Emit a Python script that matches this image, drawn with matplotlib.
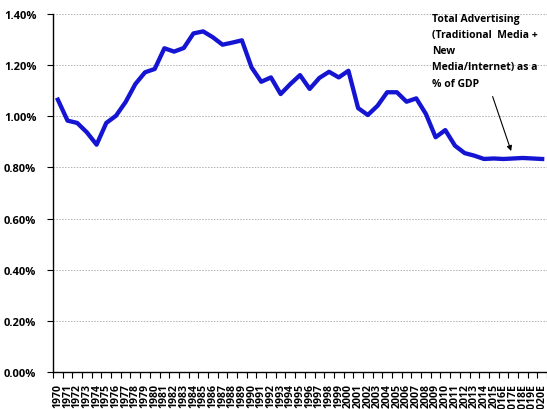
import numpy as np
import matplotlib.pyplot as plt
from matplotlib.ticker import FixedLocator, PercentFormatter

years = [str(y) for y in range(1970, 2016)] + ['2016E', '2017E', '2018E', '2019E', '2020E']
ad_share = [1.065, 0.983, 0.974, 0.937, 0.889, 0.974, 1.002, 1.056, 1.126, 1.172,
            1.185, 1.266, 1.253, 1.267, 1.324, 1.332, 1.309, 1.280, 1.288, 1.297,
            1.191, 1.135, 1.152, 1.087, 1.126, 1.161, 1.107, 1.150, 1.174, 1.152,
            1.178, 1.032, 1.005, 1.041, 1.094, 1.094, 1.057, 1.070, 1.009, 0.918,
            0.946, 0.885, 0.856, 0.846, 0.833, 0.835, 0.833, 0.835, 0.837, 0.835,
            0.833]
note = 'Total Advertising\n(Traditional  Media +\nNew\nMedia/Internet) as a\n% of GDP'

plt.rcParams['font.family'] = ['Open Sans', 'DejaVu Sans']

fig = plt.figure(figsize=(5.47, 4.10), dpi=100)
ax = fig.add_axes([53 / 547, 37 / 410, 494 / 547, 358 / 410])

x = np.arange(len(years))
ax.plot(x, ad_share, color='#1414d2', lw=3.1, solid_joinstyle='round', zorder=3)

ax.set_xlim(-0.5, len(years) - 0.5)
ax.set_ylim(0, 1.4)
ax.set_yticks(np.arange(0, 1.41, 0.2))
ax.yaxis.set_major_formatter(PercentFormatter(decimals=2))
ax.grid(axis='y', color='#b0b0b0', ls=(0, (1.5, 1.5)), lw=0.7)
ax.set_axisbelow(True)

# year labels sit between the small category-boundary ticks
ax.set_xticks(x)
ax.set_xticklabels(years, rotation=90, fontsize=7.6, fontweight='bold')
ax.tick_params(axis='x', which='major', length=0, pad=8)
ax.xaxis.set_minor_locator(FixedLocator(np.arange(-0.5, len(years), 1)))
ax.tick_params(axis='x', which='minor', length=4, width=0.8, direction='out')
ax.tick_params(axis='y', length=4, width=0.8, pad=8, labelsize=8)
for lab in ax.get_yticklabels():
    lab.set_fontweight('bold')

for side in ['top', 'right']:
    ax.spines[side].set_visible(False)
for side in ['left', 'bottom']:
    ax.spines[side].set_linewidth(1)
    ax.spines[side].set_color('black')

ax.annotate(note, xy=(46.8, 0.864), xytext=(38.6, 1.405),
            fontsize=7.5, fontweight='bold', va='top', ha='left', linespacing=1.65,
            arrowprops=dict(arrowstyle='-|>', color='black', lw=0.8,
                            shrinkA=4, shrinkB=0,
                            relpos=(0.55, 0.0)))

fig.savefig('out.png', dpi=100)
